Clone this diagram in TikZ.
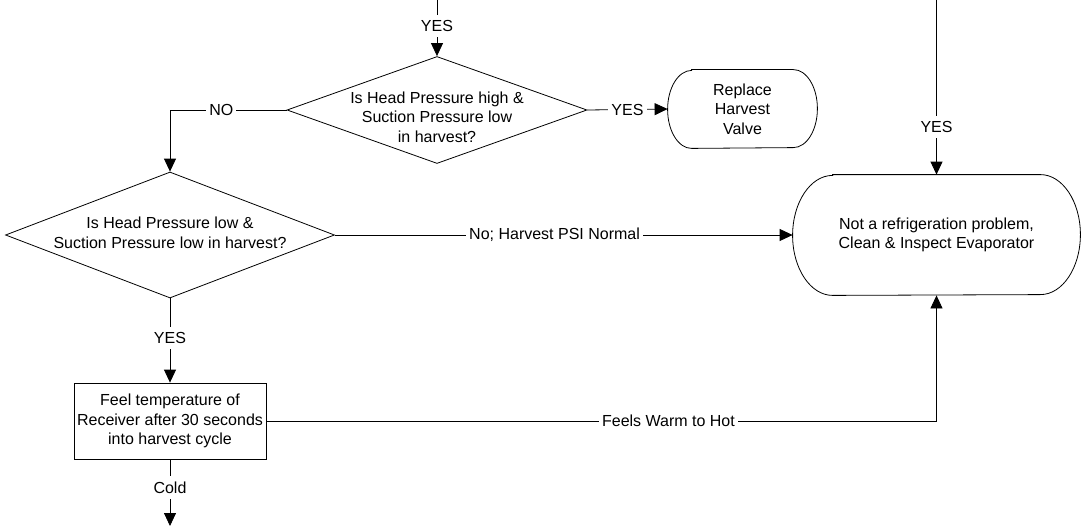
\documentclass[tikz,border=0pt]{standalone}
\usepackage{fontspec}
\setmainfont{Liberation Sans}
\usetikzlibrary{shapes.geometric,arrows.meta}

% outline of a terminal: flat top and bottom, half-ellipse ends
\newcommand{\termline}[3]{%
  \draw ([xshift=#2]#1.north west) -- ([xshift=-#2]#1.north east)
    arc[start angle=90, end angle=-90, x radius=#2, y radius=#3]
    -- ([xshift=#2]#1.south west)
    arc[start angle=270, end angle=90, x radius=#2, y radius=#3] -- cycle;}

\begin{document}
\begin{tikzpicture}[x=1pt, y=-1pt, >={Triangle[length=13pt,width=12pt]}, line width=0.8pt,
    txt/.style={font=\fontsize{16}{19.5}\selectfont, align=center},
    decision/.style={draw, diamond, inner sep=0pt},
    terminal/.style={rectangle, inner sep=0pt, txt},
    process/.style={draw, rectangle, inner sep=0pt, txt},
    lbl/.style={fill=white, inner xsep=3pt, inner ysep=5.5pt, font=\fontsize{16}{19.5}\selectfont}]
  \useasboundingbox (0,0) rectangle (1082,527);

  % Decisions
  \node[decision, minimum width=300pt, minimum height=107pt,
    label={[txt, yshift=-7pt]center:Is Head Pressure high \&\\Suction Pressure low\\in harvest?}]
    (headhigh) at (437,110) {};
  \node[decision, minimum width=329pt, minimum height=126pt,
    label={[txt, yshift=2pt]center:Is Head Pressure low \&\\Suction Pressure low in harvest?}]
    (headlow) at (170,235) {};

  % Feel the receiver
  \node[process, minimum width=192pt, minimum height=76pt] (receiver) at (170,421)
    {Feel temperature of\\Receiver after 30 seconds\\into harvest cycle};

  % Terminals
  \node[terminal, minimum width=149pt, minimum height=78pt] (replace) at (742.5,109)
    {Replace\\Harvest\\Valve};
  \node[terminal, minimum width=287pt, minimum height=120pt] (evap) at (936.5,235)
    {Not a refrigeration problem,\\Clean \& Inspect Evaporator};
  \termline{replace}{24pt}{39pt}
  \termline{evap}{40pt}{60pt}

  % Loose ends
  \coordinate (topin) at (437,0);
  \coordinate (evapin) at (936.5,0);
  \coordinate (coldend) at (170,526);

  % Connectors
  \draw[->] (topin) -- node[lbl, pos=0.46] {YES} (headhigh.north);
  \draw[->] (headhigh.east) -- node[lbl] {YES} (replace.west);
  \draw[->] (headhigh.west) -| node[lbl, pos=0.28] {NO} (headlow.north);
  \draw[->] (headlow.east) -- node[lbl, pos=0.48] {No; Harvest PSI Normal} (evap.west);
  \draw[->] (headlow.south) -- node[lbl, pos=0.47] {YES} (receiver.north);
  \draw[->] (receiver.east) -| node[lbl, pos=0.3] {Feels Warm to Hot} (evap.south);
  \draw[->] (receiver.south) -- node[lbl, pos=0.42] {Cold} (coldend);
  \draw[->] (evapin) -- node[lbl, pos=0.726] {YES} (evap.north);
\end{tikzpicture}
\end{document}
